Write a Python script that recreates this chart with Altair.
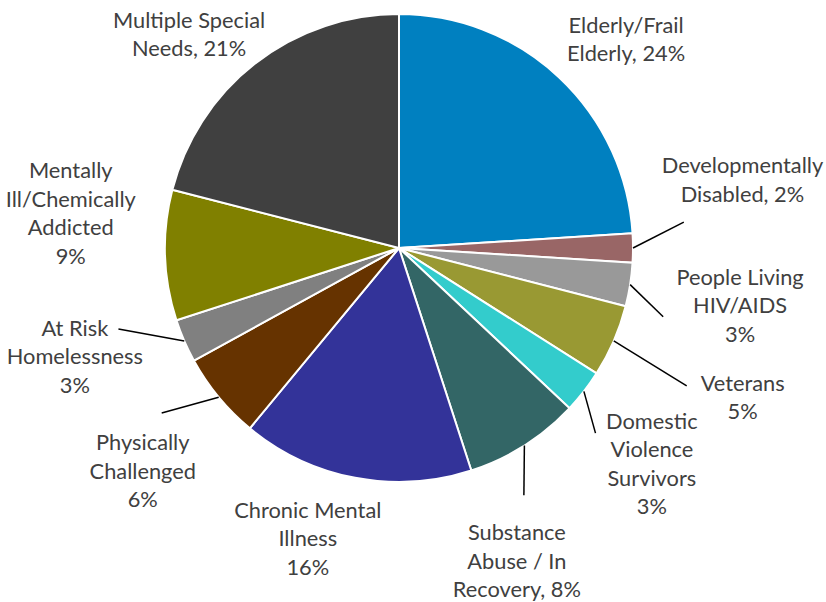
import altair as alt
import pandas as pd

# ---------------- data ----------------
categories = [
    "Elderly/Frail Elderly", "Developmentally Disabled", "People Living HIV/AIDS",
    "Veterans", "Domestic Violence Survivors", "Substance Abuse / In Recovery",
    "Chronic Mental Illness", "Physically Challenged", "At Risk Homelessness",
    "Mentally Ill/Chemically Addicted", "Multiple Special Needs",
]
shares = [24, 2, 3, 5, 3, 8, 16, 6, 3, 9, 21]
label_names = [
    "Elderly/Frail\nElderly", "Developmentally\nDisabled", "People Living\nHIV/AIDS",
    "Veterans", "Domestic\nViolence\nSurvivors", "Substance\nAbuse / In\nRecovery",
    "Chronic Mental\nIllness", "Physically\nChallenged", "At Risk\nHomelessness",
    "Mentally\nIll/Chemically\nAddicted", "Multiple Special\nNeeds",
]
label_seps = [", ", ", ", "\n", "\n", "\n", ", ", "\n", "\n", "\n", "\n", ", "]
colors = ["#0080C0", "#996666", "#999999", "#999933", "#33CCCC", "#336666",
          "#333399", "#663300", "#808080", "#808000", "#404040"]

# ---------------- layout ----------------
CX, CY, R = 399, 248, 234
LINE_H = 28.5
label_turn = [4.3, -11.1, 0.7, 0.2, 2.8, 11.8, 6.6, -1.5, 4.8, 7.7, -6.8]   # degrees from slice middle
label_dist = [308, 350, 346, 375, 333, 335, 305, 340, 342, 330, 299]
leader_turn = [None, -5.2, 5.6, 2.2, 5.5, 5.6, None, 4.8, 7.3, None, None]
leader_dist = [None, 286, 273, 319, 270, 277, None, 289, 292, None, None]

label_text = [n + s + f"{v}%" for n, s, v in zip(label_names, label_seps, shares)]

df = pd.DataFrame({
    "idx": list(range(len(categories))),
    "category": categories,
    "share": shares,
    "label": label_text,
    "n_lines": [t.count("\n") + 1 for t in label_text],
    "label_turn": label_turn,
    "label_dist": label_dist,
    "leader_turn": leader_turn,
    "leader_dist": leader_dist,
})

base = alt.Chart(df)

pie = base.mark_arc(outerRadius=R, stroke="white", strokeWidth=2).encode(
    theta=alt.Theta("share:Q", stack=True),
    order=alt.Order("idx:Q", sort="ascending"),
    color=alt.Color("category:N", scale=alt.Scale(domain=categories, range=colors), legend=None),
    x=alt.value(CX),
    y=alt.value(CY),
)

angles = (
    base.transform_window(cum="sum(share)", sort=[alt.SortField("idx")], frame=[None, 0])
    .transform_joinaggregate(total="sum(share)")
    .transform_calculate(mid="(datum.cum - datum.share / 2) / datum.total * 2 * PI")
)

labels = (
    angles.transform_calculate(la="datum.mid + datum.label_turn * PI / 180")
    .transform_calculate(lx=f"{CX} + datum.label_dist * sin(datum.la)")
    .transform_calculate(
        ly=f"{CY} - datum.label_dist * cos(datum.la) - (datum.n_lines - 1) * {LINE_H} / 2"
    )
    .mark_text(align="center", baseline="middle", lineBreak="\n", lineHeight=LINE_H,
               font="Lato", fontSize=21.8, color="#404040")
    .encode(x=alt.X("lx:Q", scale=None), y=alt.Y("ly:Q", scale=None), text="label:N")
)

leaders = (
    angles.transform_filter("isValid(datum.leader_dist)")
    .transform_calculate(ea="datum.mid + datum.leader_turn * PI / 180")
    .transform_calculate(sx=f"{CX} + {R} * sin(datum.mid)")
    .transform_calculate(sy=f"{CY} - {R} * cos(datum.mid)")
    .transform_calculate(ex=f"{CX} + datum.leader_dist * sin(datum.ea)")
    .transform_calculate(ey=f"{CY} - datum.leader_dist * cos(datum.ea)")
    .mark_rule(color="black", strokeWidth=1.5)
    .encode(x=alt.X("sx:Q", scale=None), y=alt.Y("sy:Q", scale=None),
            x2="ex:Q", y2="ey:Q")
)

chart = (
    alt.layer(pie, leaders, labels)
    .properties(width=826, height=602, autosize="none", padding=0, background="white")
    .configure_view(stroke=None)
)

chart.save("out.html", embed_options={"renderer": "svg", "actions": False})
